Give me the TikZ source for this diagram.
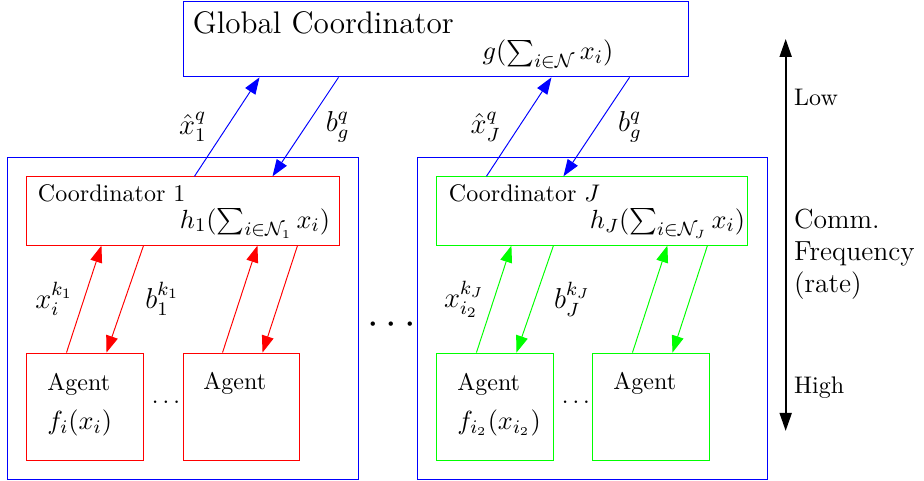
\documentclass[tikz,border=0pt]{standalone}
\usepackage{tikz}
\usetikzlibrary{positioning, arrows.meta, fit, calc}
\usepackage{amsmath}
\usepackage{amssymb}

\begin{document}
\begin{tikzpicture}[>={Triangle[length=7pt,width=5pt]},node distance=1cm,auto]
\tikzstyle{coordbox}=[rectangle,draw,minimum width=4.57cm,minimum height=1cm,inner sep=0pt]
\tikzstyle{agent}=[rectangle,draw,minimum width=1.70cm,minimum height=1.57cm,inner sep=0pt]
\tikzstyle{groupbox}=[rectangle,draw,blue,inner sep=0.28cm]
\tikzstyle{txt}=[inner sep=0pt]
\tikzstyle{fun}=[inner sep=0pt,font=\fontsize{11}{13}\selectfont]
\tikzstyle{lbl}=[text=black,font=\large]

\useasboundingbox (-2.68,-3.954) rectangle (10.853,3.09);

%--- coordinators ---
\node[coordbox, red] (c1) at (0,0) {};
\node[coordbox, green, minimum width=4.55cm] (cJ) [right=1.42cm of c1] {};
\node[rectangle, draw, blue, minimum width=7.40cm, minimum height=1.11cm] (glob) [above right=1.45cm and 2.285cm of c1.north west] {};

%--- agents ---
\node[agent, red] (a11) [below=1.567cm of c1.south west, anchor=north west] {};
\node[agent, red] (a12) [right=0.571cm of a11] {};
\node[agent, green] (a21) [below=1.567cm of cJ.south west, anchor=north west] {};
\node[agent, green] (a22) [right=0.571cm of a21] {};

%--- clusters ---
\node[groupbox, fit=(c1)(a11)(a12)] (grp1) {};
\node[groupbox, fit=(cJ)(a21)(a22)] (grpJ) {};

%--- texts ---
\node[txt, font=\fontsize{13}{15}\selectfont] (gname) [below right=0.146cm and 0.146cm of glob.north west] {Global Coordinator};
\node[fun] (gfun) [above right=0.117cm and 4.39cm of glob.south west] {$g(\sum_{i\in\mathcal{N}} x_i)$};
\node[txt] (c1name) [below right=0.117cm and 0.161cm of c1.north west] {Coordinator 1};
\node[fun] (c1fun) [above right=0.1cm and 2.24cm of c1.south west] {$h_1(\sum_{i\in\mathcal{N}_1} x_i)$};
\node[txt] (cJname) [below right=0.117cm and 0.176cm of cJ.north west] {Coordinator $J$};
\node[fun] (cJfun) [above right=0.1cm and 2.24cm of cJ.south west] {$h_J(\sum_{i\in\mathcal{N}_J} x_i)$};
\node[txt, align=left] (a11txt) [below right=0.3cm and 0.3cm of a11.north west] {Agent\\[4pt]{\fontsize{11}{13}\selectfont$f_i(x_i)$}};
\node[txt] (a12txt) [below right=0.28cm and 0.3cm of a12.north west] {Agent};
\node[txt, align=left] (a21txt) [below right=0.3cm and 0.3cm of a21.north west] {Agent\\[4pt]{\fontsize{11}{13}\selectfont$f_{i_2}(x_{i_2})$}};
\node[txt] (a22txt) [below right=0.28cm and 0.3cm of a22.north west] {Agent};

%--- dots ---
\node[font=\LARGE] (middots) [right=0pt of grp1, yshift=-3pt] {$\cdots$};
\node (dots1) [right=0pt of a11, yshift=2pt] {$\dots$};
\node (dotsJ) [right=0pt of a21, yshift=2pt] {$\dots$};

%--- global links ---
\draw[blue,->] ([xshift=2.46cm]c1.north west) -- node[lbl,left=5pt] (lx1) {$\hat{x}_1^q$} ([xshift=1.128cm]glob.south west);
\draw[blue,->] ([xshift=2.285cm]glob.south west) -- node[lbl,right=5pt] (lb1) {$b_g^q$} ([xshift=3.603cm]c1.north west);
\draw[blue,->] ([xshift=0.732cm]cJ.north west) -- node[lbl,left=4pt] (lxJ) {$\hat{x}_J^q$} ([xshift=5.404cm]glob.south west);
\draw[blue,->] ([xshift=6.547cm]glob.south west) -- node[lbl,right=5.5pt] (lbJ) {$b_g^q$} ([xshift=1.86cm]cJ.north west);

%--- local links ---
\draw[red,->] ([xshift=0.586cm]a11.north west) -- node[lbl,left=1pt] (lx11) {$x_i^{k_1}$} ([xshift=1.098cm]c1.south west);
\draw[red,->] ([xshift=1.714cm]c1.south west) -- node[lbl,right=5pt] (lb11) {$b_1^{k_1}$} ([xshift=1.172cm]a11.north west);
\draw[red,->] ([xshift=0.586cm]a12.north west) -- ([xshift=3.383cm]c1.south west);
\draw[red,->] ([xshift=3.969cm]c1.south west) -- ([xshift=1.172cm]a12.north west);
\draw[green,->] ([xshift=0.586cm]a21.north west) -- node[lbl,left=0.5pt] (lx21) {$x_{i_2}^{k_J}$} ([xshift=1.098cm]cJ.south west);
\draw[green,->] ([xshift=1.714cm]cJ.south west) -- node[lbl,right=4.5pt] (lb21) {$b_J^{k_J}$} ([xshift=1.172cm]a21.north west);
\draw[green,->] ([xshift=0.586cm]a22.north west) -- ([xshift=3.383cm]cJ.south west);
\draw[green,->] ([xshift=3.969cm]cJ.south west) -- ([xshift=1.172cm]a22.north west);

%--- frequency axis ---
\coordinate[right=1.42cm of glob.east] (ftop);
\coordinate[below=5.74cm of ftop] (fbot);
\draw[{Triangle[length=7.5pt,width=5pt]}-{Triangle[length=7.5pt,width=5pt]}, line width=0.8pt] (fbot) -- (ftop);
\node[anchor=west] (flow) at ($(ftop)!0.15!(fbot)$) {Low};
\node[anchor=west, align=left, font=\fontsize{11.5}{13.3}\selectfont] (ffreq) at ($(ftop)!0.55!(fbot)$) {Comm.\\Frequency\\(rate)};
\node[anchor=west] (fhigh) at ($(ftop)!0.89!(fbot)$) {High};

\end{tikzpicture}
\end{document}
